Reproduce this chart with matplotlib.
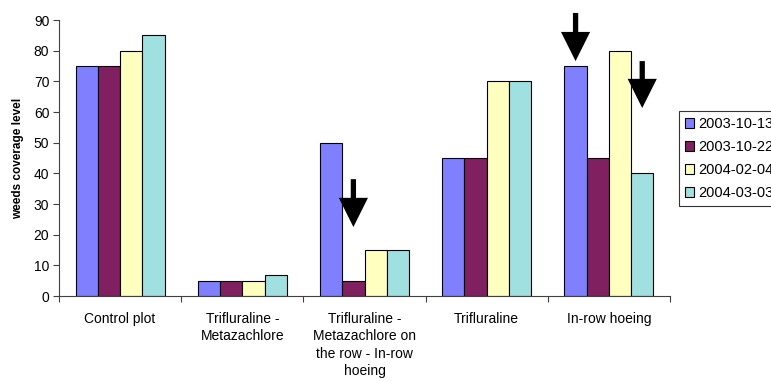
import matplotlib
matplotlib.use("Agg")
import matplotlib.pyplot as plt
import numpy as np

plt.rcParams['font.family'] = ['Liberation Sans', 'DejaVu Sans']

categories = ["Control plot", "Trifluraline -\nMetazachlore",
              "Trifluraline -\nMetazachlore on\nthe row - In-row\nhoeing",
              "Trifluraline", "In-row hoeing"]
dates = ["2003-10-13", "2003-10-22", "2004-02-04", "2004-03-03"]
coverage_1013 = [75, 5, 50, 45, 75]
coverage_1022 = [75, 5, 5, 45, 45]
coverage_0204 = [80, 5, 15, 70, 80]
coverage_0303 = [85, 7, 15, 70, 40]
series = [coverage_1013, coverage_1022, coverage_0204, coverage_0303]
colors = ["#8080FF", "#802060", "#FFFFC0", "#A0E0E0"]

# Treatment markers: (category index, series index, arrow top value, arrow tip value)
arrow_cat = [4, 4, 2]
arrow_series = [0, 3, 1]
arrow_top = [92.3, 76.6, 38.1]
arrow_tip = [76.6, 61.3, 22.5]

fig = plt.figure(figsize=(7.71, 3.82), dpi=100)
ax = fig.add_axes([59/771, 1 - 296/382, (670-59)/771, (296-20)/382])

x = np.arange(len(categories))
w = 1 / 5.5
offsets = (np.arange(4) - 1.5) * w
for vals, off, c, lab in zip(series, offsets, colors, dates):
    ax.bar(x + off, vals, width=w, color=c, edgecolor="black", linewidth=0.8, label=lab, zorder=2)

for ci, si, top, tip in zip(arrow_cat, arrow_series, arrow_top, arrow_tip):
    xa = ci + offsets[si]
    ax.annotate("", xy=(xa, tip), xytext=(xa, top), annotation_clip=False,
                arrowprops=dict(arrowstyle="simple,head_length=21,head_width=21,tail_width=3.8",
                                mutation_scale=1, fc="black", ec="black", lw=0,
                                shrinkA=0, shrinkB=0, clip_on=False), zorder=5)

ax.set_xlim(-0.5, len(categories) - 0.5)
ax.set_ylim(0, 90)
ax.set_yticks(np.arange(0, 91, 10))
ax.set_xticks(np.arange(len(categories) + 1) - 0.5)
ax.set_xticklabels([])
ax.set_xticks(x, minor=True)
ax.set_xticklabels(categories, minor=True, fontsize=10, linespacing=1.3, va="top")
ax.tick_params(axis="x", which="minor", length=0, pad=11.5)
ax.tick_params(axis="x", which="major", length=4, width=0.8, color="#404040")
ax.tick_params(axis="y", length=4, width=0.8, color="#404040", labelsize=10, pad=3)
for s in ["top", "right"]:
    ax.spines[s].set_visible(False)
for s in ["left", "bottom"]:
    ax.spines[s].set_color("#404040")
    ax.spines[s].set_linewidth(0.8)

ax.set_ylabel("weeds coverage level", fontsize=8.5, fontweight="bold", labelpad=7)

leg = fig.legend(loc="upper left", bbox_to_anchor=(679/771, 1 - 111/382),
                 fontsize=10.5, frameon=True, fancybox=False, edgecolor="black",
                 handlelength=0.65, handleheight=0.65, handletextpad=0.25,
                 labelspacing=0.62, borderpad=0.4, borderaxespad=0)
leg.get_frame().set_linewidth(0.8)

fig.savefig("out.png", dpi=100)
